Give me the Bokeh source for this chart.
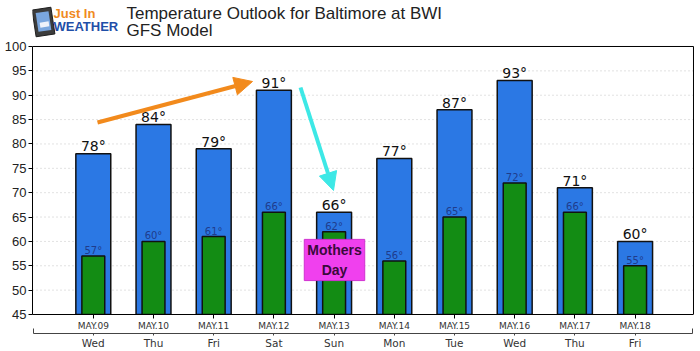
from bokeh.plotting import figure
from bokeh.models import (ColumnDataSource, FixedTicker, LinearAxis, Label, Arrow,
                          NormalHead, Range1d)
from bokeh.core.properties import value
from bokeh.embed import file_html
from bokeh.resources import INLINE

dates = ["MAY.09", "MAY.10", "MAY.11", "MAY.12", "MAY.13",
         "MAY.14", "MAY.15", "MAY.16", "MAY.17", "MAY.18"]
days = ["Wed", "Thu", "Fri", "Sat", "Sun", "Mon", "Tue", "Wed", "Thu", "Fri"]
highs = [78, 84, 79, 91, 66, 77, 87, 93, 71, 60]
lows = [57, 60, 61, 66, 62, 56, 65, 72, 66, 55]
y_ticks = list(range(45, 101, 5))
title_lines = ["Temperature Outlook for Baltimore at BWI", "GFS Model"]

# chart box (data units); the frame is extended upward to hold the header
X0, X1 = -1.01, 9.97
Y0, Y1 = 45, 100
PXU, PYU = 60.2, 4.873          # pixels per data unit
LEFT, TOP100 = 32, 46           # pixel position of box left edge / of the 100 line


def dx(px):
    return X0 + (px - LEFT) / PXU


def dy(py):
    return Y1 + (TOP100 - py) / PYU


idx = list(range(len(dates)))
src = ColumnDataSource(dict(
    x=idx, high=highs, low=lows,
    hi_txt=[f"{v}°" for v in highs], lo_txt=[f"{v}°" for v in lows],
    hi_y=[v - 0.8 / PYU for v in highs], lo_y=[v for v in lows],
))

p = figure(width=700, height=351, output_backend="svg", toolbar_location=None,
           x_range=Range1d(X0, X0 + (700 - LEFT) / PXU),
           y_range=Range1d(Y0, Y1 + TOP100 / PYU),
           min_border_left=LEFT, min_border_right=0, min_border_top=0,
           min_border_bottom=10, x_axis_location=None)
p.background_fill_color = "white"
p.border_fill_color = "white"
p.outline_line_color = None
p.grid.visible = False

# y axis
p.yaxis.ticker = FixedTicker(ticks=y_ticks)
p.yaxis.bounds = (Y0, Y1)
p.yaxis.major_label_text_font = "Liberation Sans"
p.yaxis.major_label_text_font_size = "13px"
p.yaxis.major_label_text_color = "#222222"
p.yaxis.major_label_standoff = 2
p.yaxis.major_tick_out = 4
p.yaxis.major_tick_in = 0
p.yaxis.minor_tick_line_color = None
p.yaxis.axis_line_color = "black"

# dotted grid lines
grid_y = [t for t in y_ticks if Y0 < t < Y1]
p.segment(x0=X0, x1=X1, y0=grid_y, y1=grid_y, line_color="#c4c4c4",
          line_dash="1 3", line_width=1)

# x axis: dates
ax1 = LinearAxis(ticker=FixedTicker(ticks=idx), bounds=(X0, X1),
                 major_label_overrides={i: d for i, d in enumerate(dates)})
ax1.major_label_text_font = "DejaVu Sans"
ax1.major_label_text_font_size = "9px"
ax1.major_label_text_color = "#333333"
ax1.major_label_standoff = 2
ax1.major_tick_out = 4
ax1.major_tick_in = 0
ax1.minor_tick_line_color = None
ax1.axis_line_color = "black"
p.add_layout(ax1, "below")

# x axis: weekdays with bracket
ax2 = LinearAxis(ticker=FixedTicker(ticks=idx, minor_ticks=[X0 + 0.01, X1 - 0.01]),
                 bounds=(X0 + 0.01, X1 - 0.01),
                 major_label_overrides={i: d for i, d in enumerate(days)})
ax2.major_label_text_font = "DejaVu Sans"
ax2.major_label_text_font_size = "10.5px"
ax2.major_label_text_color = "#333333"
ax2.major_label_standoff = 1
ax2.major_tick_out = 2
ax2.major_tick_in = 0
ax2.minor_tick_in = 5
ax2.minor_tick_out = 0
ax2.minor_tick_line_color = "#444444"
ax2.major_tick_line_color = "#444444"
ax2.axis_line_color = "#444444"
p.add_layout(ax2, "below")

# bars
p.vbar(x="x", top="high", bottom=Y0 - 5, width=0.58, source=src,
       fill_color="#2b78e4", line_color="#111111", line_width=1.5)
p.vbar(x="x", top="low", bottom=Y0 - 5, width=0.38, source=src,
       fill_color="#138c14", line_color="#111111", line_width=1.5)

# top and right box edges
p.segment(x0=[X0, X1], y0=[Y1, Y0], x1=[X1, X1], y1=[Y1, Y1],
          line_color="black", line_width=1)

p.text(x="x", y="hi_y", text="hi_txt", source=src, text_align="center",
       text_baseline="bottom", text_font=value("DejaVu Sans"),
       text_font_size="14px", text_color="#111111")
p.text(x="x", y="lo_y", text="lo_txt", source=src, text_align="center",
       text_baseline="bottom", text_font=value("DejaVu Sans"),
       text_font_size="10px", text_color="#1f3c8c")

# arrows
p.add_layout(Arrow(end=NormalHead(size=18, fill_color="#f28a1c", line_color="#f28a1c"),
                   x_start=dx(97), y_start=dy(122), x_end=dx(252), y_end=dy(81),
                   line_color="#f28a1c", line_width=4))
p.add_layout(Arrow(end=NormalHead(size=18, fill_color="#3de8e6", line_color="#3de8e6"),
                   x_start=dx(300), y_start=dy(87), x_end=dx(333), y_end=dy(190),
                   line_color="#3de8e6", line_width=4))

# Mothers Day note
p.add_layout(Label(x=dx(334), y=dy(259.5), text="Mothers\nDay", text_align="center",
                   text_baseline="middle", text_font="Liberation Sans",
                   text_font_style="bold", text_font_size="14px", text_color="#3b0a3b",
                   background_fill_color="#f040ee", border_line_color="#d030d0",
                   padding=3))

# header: title
p.text(x=[dx(126), dx(126)], y=[dy(22.6), dy(39.6)], text=title_lines,
       text_font=value("Liberation Sans"), text_font_size="17px",
       text_color="#222222", text_baseline="bottom")

# header: logo
p.rect(x=[dx(43)], y=[dy(21.5)], width=19, height=27, width_units="screen",
       height_units="screen", fill_color="#3c3c3c", line_color="#1e1e1e", angle=0.15)
p.rect(x=[dx(43)], y=[dy(21)], width=13, height=19, width_units="screen",
       height_units="screen", fill_color="#7aa6de", line_color=None, angle=0.15)
p.rect(x=[dx(44)], y=[dy(24)], width=9, height=5, width_units="screen",
       height_units="screen", fill_color="#eef2fa", line_color=None, angle=0.15)
p.text(x=[dx(53)], y=[dy(20.7)], text=["Just In"], text_font=value("Liberation Sans"),
       text_font_style="bold", text_font_size="13px", text_color="#f08a1e",
       text_baseline="bottom")
p.text(x=[dx(53)], y=[dy(33.7)], text=["WEATHER"], text_font=value("Liberation Sans"),
       text_font_style="bold", text_font_size="13px", text_color="#1f4fa8",
       text_baseline="bottom")

open("out.html", "w").write(file_html(p, INLINE))
